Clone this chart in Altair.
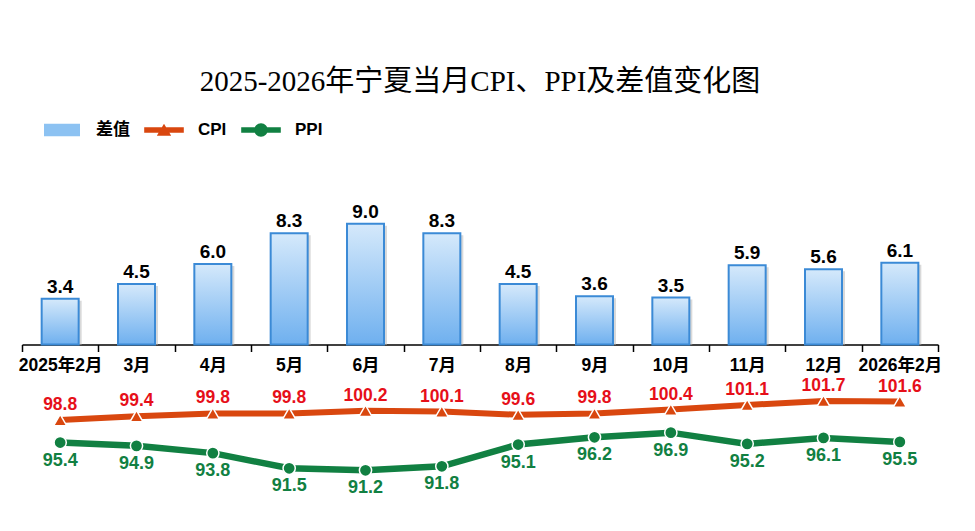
import altair as alt
import pandas as pd

months = ["2025年2月", "3月", "4月", "5月", "6月", "7月", "8月", "9月", "10月", "11月", "12月", "2026年2月"]
diff = [3.4, 4.5, 6.0, 8.3, 9.0, 8.3, 4.5, 3.6, 3.5, 5.9, 5.6, 6.1]
cpi = [98.8, 99.4, 99.8, 99.8, 100.2, 100.1, 99.6, 99.8, 100.4, 101.1, 101.7, 101.6]
ppi = [95.4, 94.9, 93.8, 91.5, 91.2, 91.8, 95.1, 96.2, 96.9, 95.2, 96.1, 95.5]
series_names = ["差值", "CPI", "PPI"]

df = pd.DataFrame({"month": months, "diff": diff, "CPI": cpi, "PPI": ppi})
legend_df = pd.DataFrame({"series": series_names, "v": [None, None, None]})

SANS = "Liberation Sans, Arial, Noto Sans CJK SC, sans-serif"
SERIF = "Liberation Serif, Times New Roman, Noto Sans CJK SC, serif"
BAR_DOMAIN = [-11.6, 14.5]
LINE_DOMAIN = [86.7, 139.7]
CPI_LINE = "#d9470f"
CPI_TEXT = "#e60f19"
PPI_COL = "#118042"
BAR_STROKE = "#3b8ad6"

x_enc = alt.X(
    "month:N", sort=months,
    scale=alt.Scale(paddingInner=0, paddingOuter=0),
    axis=alt.Axis(
        title=None, labelAngle=0, tickBand="extent", offset=-155.5,
        domainColor="black", domainWidth=1.5, tickColor="black", tickWidth=1.5,
        tickSize=7, labelFont=SANS, labelFontSize=17.5, labelFontWeight="bold",
        labelColor="black", labelPadding=5, grid=False,
    ),
)
y_bar = alt.Y("diff:Q", scale=alt.Scale(domain=BAR_DOMAIN), axis=None)

base = alt.Chart(df)

gradient = alt.Gradient(
    gradient="linear",
    stops=[alt.GradientStop(color="#d5e9fb", offset=0),
           alt.GradientStop(color="#6fb0ef", offset=1)],
    x1=0, x2=0, y1=0, y2=1,
)

shadow = base.mark_bar(width=37, xOffset=3, yOffset=2, color="#cfcfcf", opacity=0.8).encode(
    x=x_enc, y=y_bar, y2=alt.datum(0))
bars = base.mark_bar(width=37, color=gradient, stroke=BAR_STROKE, strokeWidth=2).encode(
    x=x_enc, y=y_bar, y2=alt.datum(0))
bar_text = base.mark_text(dy=-12, baseline="middle", font=SANS, fontSize=19,
                          fontWeight="bold", color="black").encode(
    x=x_enc, y=y_bar, text=alt.Text("diff:Q", format=".1f"))

bar_group = alt.layer(shadow, bars, bar_text)

y_cpi = alt.Y("CPI:Q", scale=alt.Scale(domain=LINE_DOMAIN), axis=None)
y_ppi = alt.Y("PPI:Q", scale=alt.Scale(domain=LINE_DOMAIN), axis=None)

cpi_line = base.mark_line(color=CPI_LINE, strokeWidth=6).encode(x=x_enc, y=y_cpi)
ppi_line = base.mark_line(color=PPI_COL, strokeWidth=6.5).encode(x=x_enc, y=y_ppi)
cpi_pts = base.mark_point(shape="triangle-up", filled=True, size=170, color=CPI_LINE,
                          stroke="white", strokeWidth=1.5, opacity=1).encode(x=x_enc, y=y_cpi)
ppi_pts = base.mark_point(shape="circle", filled=True, size=150, color=PPI_COL,
                          stroke="white", strokeWidth=1.5, opacity=1).encode(x=x_enc, y=y_ppi)
cpi_text = base.mark_text(dy=-15, baseline="middle", font=SANS, fontSize=17.5,
                          fontWeight="bold", color=CPI_TEXT).encode(
    x=x_enc, y=y_cpi, text=alt.Text("CPI:Q", format=".1f"))
ppi_text = base.mark_text(dy=18, baseline="middle", font=SANS, fontSize=18,
                          fontWeight="bold", color=PPI_COL).encode(
    x=x_enc, y=y_ppi, text=alt.Text("PPI:Q", format=".1f"))

legend_paths = [
    "M-2,-0.7H2V0.7H-2Z",
    "M-2.2,-0.3H2.2V0.3H-2.2Z M-0.8,0.65L0,-0.7L0.8,0.65Z",
    "M-2.2,-0.3H2.2V0.3H-2.2Z M0.75,0 A0.75,0.75 0 1,1 -0.75,0 A0.75,0.75 0 1,1 0.75,0 Z",
]
leg = alt.Legend(
    orient="none", legendX=31, legendY=-29, direction="horizontal", title=None,
    labelFont=SANS, labelFontSize=17, labelFontWeight="bold", labelColor="black",
    symbolSize=324, symbolStrokeWidth=0, labelOffset=25, columnPadding=14,
    padding=0, symbolOpacity=1,
)
legend_layer = alt.Chart(legend_df).mark_point(filled=True, size=324, opacity=1).encode(
    y=alt.Y("v:Q", scale=alt.Scale(domain=LINE_DOMAIN), axis=None),
    color=alt.Color("series:N", scale=alt.Scale(domain=series_names,
                    range=["#8cc2f2", CPI_LINE, PPI_COL]), legend=leg),
    shape=alt.Shape("series:N", scale=alt.Scale(domain=series_names, range=legend_paths),
                    legend=leg),
)

line_group = alt.layer(cpi_line, ppi_line, cpi_pts, ppi_pts, cpi_text, ppi_text, legend_layer)

chart = alt.layer(bar_group, line_group).resolve_scale(y="independent").properties(
    width=916, height=350,
    autosize=alt.AutoSizeParams(type="none"),
    padding={"left": 14, "top": 142, "right": 21, "bottom": 23},
    background="white",
    title=alt.TitleParams(
        "2025-2026年宁夏当月CPI、PPI及差值变化图", font=SERIF, fontSize=29,
        fontWeight="normal", color="black", anchor="middle", offset=24,
    ),
).configure_view(stroke=None)

chart.save("out.html", embed_options={"renderer": "svg", "actions": False})
